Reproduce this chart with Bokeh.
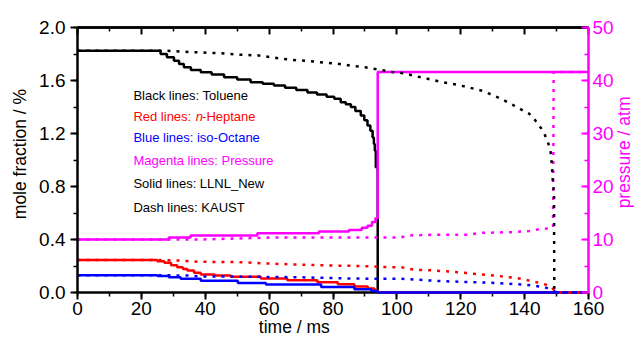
import math
from bokeh.plotting import figure
from bokeh.models import (Range1d, LinearAxis, SingleIntervalTicker, FixedTicker,
                          Label, PrintfTickFormatter)
from bokeh.embed import file_html
from bokeh.resources import INLINE

# ---- data ----
# LLNL_New (solid, step-like)
tol_llnl_t = [0, 26, 28, 30.2, 31.8, 33.3, 35.5, 38.6, 42, 45.9, 50, 54.2, 58, 61.5, 65, 68.5, 72, 75, 78, 80.4, 82.4, 84, 85.6, 87, 88.7, 89.8, 90.8, 91.7, 92.4, 92.8, 93.1, 93.4, 94, 160]
tol_llnl_v = [1.825, 1.80, 1.775, 1.75, 1.725, 1.70, 1.68, 1.663, 1.645, 1.625, 1.607, 1.587, 1.575, 1.562, 1.545, 1.528, 1.51, 1.495, 1.478, 1.462, 1.436, 1.42, 1.40, 1.37, 1.336, 1.30, 1.26, 1.22, 1.17, 1.12, 1.07, 0.946, 0.0, 0.0]

hep_llnl_t = [0, 25, 27.2, 29.3, 31.2, 33, 34.4, 36.5, 38.6, 43, 48, 57.4, 65.7, 75.1, 81.5, 86.7, 90.9, 93, 94, 160]
hep_llnl_v = [0.245, 0.235, 0.225, 0.205, 0.19, 0.178, 0.166, 0.15, 0.135, 0.128, 0.118, 0.105, 0.093, 0.078, 0.062, 0.046, 0.03, 0.016, 0.0, 0.0]

oct_llnl_t = [0, 25, 28.6, 32.3, 38.6, 50.2, 59, 76.3, 86.7, 92, 94, 160]
oct_llnl_v = [0.13, 0.125, 0.115, 0.103, 0.088, 0.072, 0.06, 0.042, 0.025, 0.012, 0.0, 0.0]

p_llnl_t = [0, 28.6, 35.4, 56.3, 75.6, 85, 89, 90.8, 92.2, 93.3, 94, 160]
p_llnl_v = [10.0, 10.4, 10.75, 11.2, 11.5, 11.8, 12.2, 12.6, 13.3, 14.0, 41.6, 41.6]

# KAUST (dotted)
tol_kaust_t = [0, 27, 32.3, 38, 44.8, 51, 56.3, 60, 64.7, 69, 73, 77, 81.4, 85.6, 90, 95, 98.5, 102, 106, 109.6, 113.8, 119, 123, 126.3, 129.5, 132.6, 136, 139, 141.4, 143, 144.1, 145.3, 146.2, 147.3, 148.1, 148.4, 148.8, 149.2, 149.3]
tol_kaust_v = [1.825, 1.825, 1.819, 1.812, 1.806, 1.794, 1.79, 1.778, 1.762, 1.752, 1.746, 1.735, 1.727, 1.712, 1.70, 1.68, 1.665, 1.655, 1.632, 1.613, 1.59, 1.567, 1.545, 1.525, 1.495, 1.462, 1.42, 1.38, 1.35, 1.31, 1.273, 1.235, 1.198, 1.134, 1.07, 1.0, 0.85, 0.75, 0.0]

hep_kaust_t = [0, 26, 31.3, 37.6, 50.2, 62.7, 78.4, 90, 98.2, 101.4, 105.5, 111.8, 119.1, 124.3, 130.6, 133.2, 137.9, 140, 143.7, 145.2, 146.8, 148.4, 150, 160]
hep_kaust_v = [0.245, 0.245, 0.242, 0.232, 0.229, 0.216, 0.204, 0.199, 0.191, 0.19, 0.172, 0.166, 0.153, 0.141, 0.128, 0.121, 0.108, 0.098, 0.078, 0.07, 0.058, 0.04, 0.0, 0.0]

oct_kaust_t = [0, 27, 34.5, 38.6, 50.2, 69, 86.7, 101.4, 113.9, 129.6, 140, 146.3, 148.9, 150]
oct_kaust_v = [0.13, 0.13, 0.128, 0.12, 0.12, 0.115, 0.105, 0.103, 0.086, 0.073, 0.06, 0.04, 0.015, 0.0]

p_kaust_t = [0, 38.6, 62.6, 70, 95, 101.3, 103.4, 111.7, 122.1, 126.3, 136.8, 141.5, 144.1, 148.9, 149.1, 160]
p_kaust_v = [10.0, 10.0, 10.4, 10.4, 10.4, 10.4, 10.75, 10.9, 10.9, 11.25, 11.4, 11.6, 11.9, 12.2, 41.6, 41.6]

legend_lines = ["Black lines: Toluene", "Red lines: ", "Blue lines: iso-Octane",
                "Magenta lines: Pressure", "Solid lines: LLNL_New", "Dash lines: KAUST"]
x_title = "time / ms"
y_title = "mole fraction / %"
p_title = "pressure / atm"

x_lim = (0, 160)
y_lim = (0, 2.0)
p_lim = (0, 50)
x_tick_step = 20
y_tick_step = 0.4
p_tick_step = 10

# ---- layout: frame fills the canvas; axes are pinned at the data box edges ----
W, H = 636, 337
FL, FR, FT, FB = 77, 588, 27, 292          # pixel box of the data area
sx = (x_lim[1] - x_lim[0]) / (FR - FL)
sy = (y_lim[1] - y_lim[0]) / (FB - FT)
sp = (p_lim[1] - p_lim[0]) / (FB - FT)
xr = Range1d(x_lim[0] - FL * sx, x_lim[1] + (W - FR) * sx)
yr = Range1d(y_lim[0] - (H - FB) * sy, y_lim[1] + FT * sy)
pr = Range1d(p_lim[0] - (H - FB) * sp, p_lim[1] + FT * sp)

FONT = "Liberation Sans"
BLACK = "#000000"
RED = "#FF0000"
BLUE = "#0000FF"
MAG = "#FF00FF"

p = figure(width=W, height=H, output_backend="svg", toolbar_location=None,
           x_range=xr, y_range=yr, x_axis_location=None, y_axis_location=None,
           min_border=0)
p.extra_y_ranges = {"p": pr}
p.xgrid.visible = False
p.ygrid.visible = False
p.outline_line_color = None
p.background_fill_color = "white"
p.border_fill_color = "white"


def style_axis(ax, color, tick_in, tick_out, minor_in, minor_out, standoff=4, size="19px"):
    ax.axis_line_color = color
    ax.axis_line_width = 2.5
    ax.major_tick_line_color = color
    ax.minor_tick_line_color = color
    ax.major_tick_line_width = 2
    ax.minor_tick_line_width = 1.5
    ax.major_tick_in = tick_in
    ax.major_tick_out = tick_out
    ax.minor_tick_in = minor_in
    ax.minor_tick_out = minor_out
    ax.major_label_text_color = color
    ax.major_label_text_font = FONT
    ax.major_label_text_font_size = size
    ax.major_label_standoff = standoff


bottom = LinearAxis(ticker=SingleIntervalTicker(interval=x_tick_step, num_minor_ticks=2),
                    fixed_location=y_lim[0], bounds=x_lim)
style_axis(bottom, BLACK, 0, 7, 0, 4, standoff=2)
bottom.level = "underlay"
p.add_layout(bottom, "below")

left = LinearAxis(ticker=SingleIntervalTicker(interval=y_tick_step, num_minor_ticks=2),
                  formatter=PrintfTickFormatter(format="%.1f"),
                  fixed_location=x_lim[0], bounds=y_lim)
style_axis(left, BLACK, 0, 7, 0, 4, standoff=5)
p.add_layout(left, "left")

right = LinearAxis(y_range_name="p",
                   ticker=SingleIntervalTicker(interval=p_tick_step, num_minor_ticks=2),
                   fixed_location=x_lim[1], bounds=p_lim)
style_axis(right, MAG, 7, 0, 4, 0, standoff=4)
p.add_layout(right, "right")

# top frame edge: tick marks only (no labels)
major_top = list(range(x_lim[0], x_lim[1] + 1, x_tick_step))
minor_top = [v + x_tick_step // 2 for v in major_top[:-1]]
top1 = LinearAxis(ticker=FixedTicker(ticks=[], minor_ticks=major_top),
                  fixed_location=y_lim[1], bounds=x_lim)
style_axis(top1, BLACK, 0, 0, 7, 0)
top1.minor_tick_line_width = 2
p.add_layout(top1, "above")
top2 = LinearAxis(ticker=FixedTicker(ticks=[], minor_ticks=minor_top),
                  fixed_location=y_lim[1], bounds=x_lim)
style_axis(top2, BLACK, 0, 0, 4, 0)
p.add_layout(top2, "above")

# solid (LLNL_New) lines
p.step(tol_llnl_t, tol_llnl_v, mode="after", line_color=BLACK, line_width=2.5)
p.step(hep_llnl_t, hep_llnl_v, mode="after", line_color=RED, line_width=2.5)
p.step(oct_llnl_t, oct_llnl_v, mode="after", line_color=BLUE, line_width=2.5)
p.step(p_llnl_t, p_llnl_v, mode="after", line_color=MAG, line_width=2.5, y_range_name="p")

# dotted (KAUST) lines
DASH = "3 6"
p.line(p_kaust_t, p_kaust_v, line_color=MAG, line_width=2.5, line_dash=DASH, y_range_name="p")
p.line(oct_kaust_t, oct_kaust_v, line_color=BLUE, line_width=2.5, line_dash=DASH)
p.line(hep_kaust_t, hep_kaust_v, line_color=RED, line_width=2.5, line_dash=DASH)
p.line(tol_kaust_t, tol_kaust_v, line_color=BLACK, line_width=2.5, line_dash=DASH)

# in-plot legend text
LSIZE = "13px"
LX = 17.5
rows_y = [1.487, 1.328, 1.168, 0.996, 0.825, 0.644]
colors = [BLACK, RED, BLUE, MAG, BLACK, BLACK]
for txt, yy, c in zip(legend_lines, rows_y, colors):
    p.add_layout(Label(x=LX, y=yy, text=txt, text_color=c, text_font=FONT,
                       text_font_size=LSIZE, text_baseline="middle", text_align="left"))
p.add_layout(Label(x=37.0, y=rows_y[1], text="n", text_color=RED, text_font=FONT,
                   text_font_style="italic", text_font_size=LSIZE, text_baseline="middle"))
p.add_layout(Label(x=39.0, y=rows_y[1], text="-Heptane", text_color=RED, text_font=FONT,
                   text_font_size=LSIZE, text_baseline="middle"))

# axis titles
p.add_layout(Label(x=67.9, y=-0.264, text=x_title, text_color=BLACK, text_font=FONT,
                   text_font_size="17.5px", text_baseline="middle", text_align="center"))
p.add_layout(Label(x=-17.9, y=1.045, text=y_title, text_color=BLACK, text_font=FONT,
                   text_font_size="17.5px", text_baseline="middle", text_align="center",
                   angle=math.pi / 2))
p.add_layout(Label(x=171.0, y=1.057, text=p_title, text_color=MAG, text_font=FONT,
                   text_font_size="17.5px", text_baseline="middle", text_align="center",
                   angle=math.pi / 2))

open("out.html", "w").write(file_html(p, INLINE))
